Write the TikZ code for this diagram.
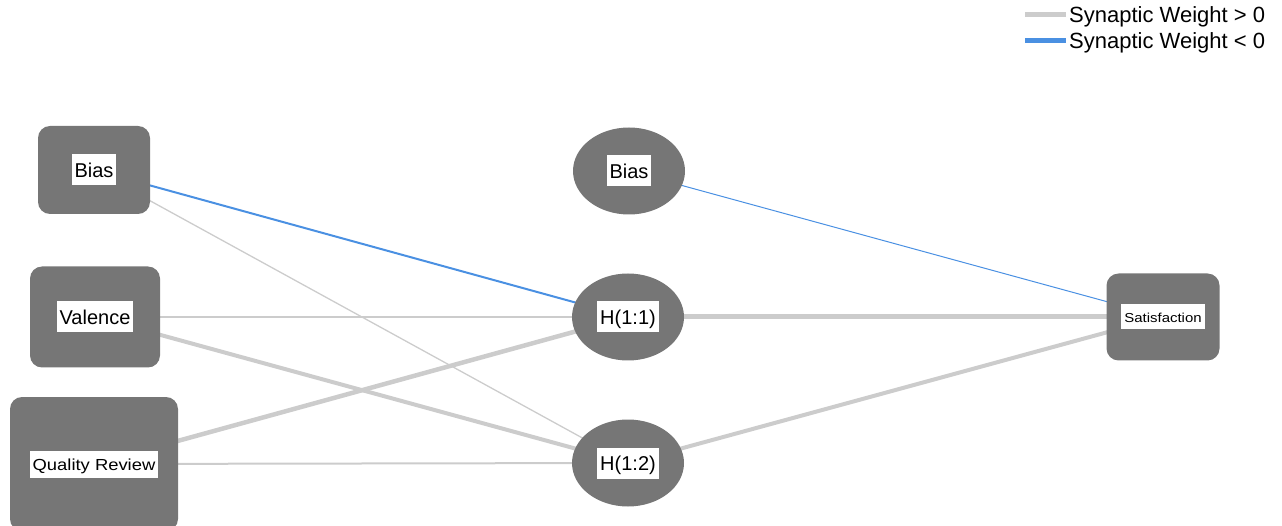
\documentclass[tikz,border=0pt]{standalone}
\usepackage{fontspec}
\setmainfont{Liberation Sans}
\usetikzlibrary{shapes.geometric,backgrounds}
\definecolor{nodegray}{RGB}{118,118,118}
\definecolor{poscol}{RGB}{204,204,204}
\definecolor{negcol}{RGB}{74,144,226}
\newcommand{\lbl}[1]{{\setlength{\fboxsep}{0pt}\colorbox{white}{\hspace{3pt}\rule[-8pt]{0pt}{31pt}#1\hspace{3pt}}}}
\newcommand{\smlbl}[2]{{\setlength{\fboxsep}{0pt}\colorbox{white}{\hspace{3pt}\rule[-7pt]{0pt}{#1}#2\hspace{3pt}}}}
\tikzset{
  inbox/.style={rectangle, rounded corners=12pt, fill=nodegray, draw=none, inner sep=0pt},
  hid/.style={ellipse, fill=nodegray, draw=none, minimum width=112pt, minimum height=87pt, inner sep=0pt},
  poswt/.style={draw=poscol},
  negwt/.style={draw=negcol},
  lab/.style={font=\fontsize{20}{24}\selectfont},
  leg/.style={font=\fontsize{22}{26}\selectfont, anchor=west, inner sep=0pt}
}
\begin{document}
\begin{tikzpicture}[x=1pt,y=-1pt]
\useasboundingbox (0,0) rectangle (1282,526);
% input layer
\node[inbox, minimum width=112pt, minimum height=88pt, lab] (b1) at (94,170) {\lbl{Bias}};
\node[inbox, minimum width=130pt, minimum height=101pt, lab] (val) at (95,317) {\lbl{Valence}};
\node[inbox, minimum width=168pt, minimum height=134pt] (qr) at (94,464) {\smlbl{27pt}{\fontsize{16}{18}\selectfont\scalebox{1.15}[1]{Quality Review}}};
% hidden layer
\node[hid, lab] (b2) at (629,171) {\lbl{Bias}};
\node[hid, lab] (h1) at (628,317) {\lbl{H(1:1)}};
\node[hid, lab] (h2) at (628,463) {\lbl{H(1:2)}};
% output
\node[inbox, minimum width=113pt, minimum height=87pt] (sat) at (1163,317) {\smlbl{25pt}{\fontsize{13}{15}\selectfont\scalebox{1.15}[1]{Satisfaction}}};
% edges
\begin{scope}[on background layer]
\draw[negwt, line width=2pt] (b1.center) -- (h1.center);
\draw[poswt, line width=1.3pt] (b1.center) -- (h2.center);
\draw[poswt, line width=2.5pt] (val.center) -- (h1.center);
\draw[poswt, line width=4pt] (val.center) -- (h2.center);
\draw[poswt, line width=4.5pt] (qr.center) -- (h1.center);
\draw[poswt, line width=2pt] (qr.center) -- (h2.center);
\draw[negwt, line width=1pt] (b2.center) -- (sat.center);
\draw[poswt, line width=5pt] (h1.center) -- (sat.center);
\draw[poswt, line width=4pt] (h2.center) -- (sat.center);
\end{scope}
% legend
\coordinate (l1a) at (1025,15);
\coordinate (l1b) at (1066,15);
\coordinate (l2a) at (1025,41);
\coordinate (l2b) at (1066,41);
\draw[poswt, line width=5pt] (l1a) -- (l1b);
\draw[negwt, line width=5pt] (l2a) -- (l2b);
\node[leg] (t1) at (1069,17) {Synaptic Weight > 0};
\node[leg] (t2) at (1069,43) {Synaptic Weight < 0};
\end{tikzpicture}
\end{document}
